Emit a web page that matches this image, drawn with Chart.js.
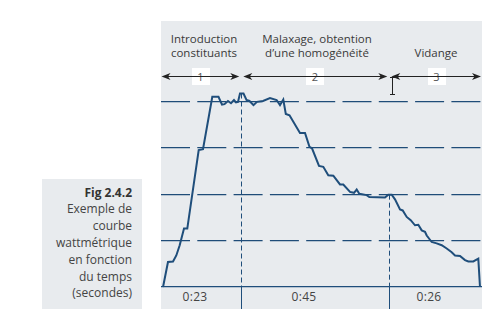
<!DOCTYPE html>
<html lang="fr">
<head>
<meta charset="utf-8">
<title>Courbe wattmétrique</title>
<script src="https://cdn.jsdelivr.net/npm/chart.js@4.4.1/dist/chart.umd.min.js"></script>
<style>
  html, body { margin: 0; padding: 0; background: #fff; }
  body {
    width: 495px; height: 321px; position: relative; overflow: hidden;
    font-family: "Open Sans", "DejaVu Sans", sans-serif; color: #3a3a3a;
  }
  .panel { position: absolute; background: #e8ebee; }
  #plotPanel { left: 161px; top: 21px; width: 321px; height: 288px; }
  #captionPanel { left: 42px; top: 179px; width: 100px; height: 130px; }
  #chartWrap { position: absolute; left: 161px; top: 21px; width: 321px; height: 288px; }
  .head {
    position: absolute; font-size: 11.5px; line-height: 14px;
    text-align: center; white-space: nowrap; transform: translateX(-50%);
  }
  .num {
    position: absolute; width: 18px; height: 17px; background: #fff;
    font-size: 11px; line-height: 17px; text-align: center; color: #555;
    transform: translateX(-50%);
  }
  .dur {
    position: absolute; font-size: 12px; line-height: 16px; top: 289px;
    text-align: center; white-space: nowrap; transform: translateX(-50%); color: #444;
    letter-spacing: 0.3px;
  }
  #caption {
    position: absolute; left: 20px; width: 112px; top: 184.6px;
    font-size: 12px; line-height: 16.8px; text-align: right; color: #444;
  }
  #caption b { font-weight: 700; color: #333; }
</style>
</head>
<body>
<div class="panel" id="captionPanel"></div>
<div class="panel" id="plotPanel"></div>

<div id="caption"></div>

<div class="head" style="left:204px; top:32px;" id="h0"></div>
<div class="head" style="left:317px; top:32px;" id="h1"></div>
<div class="head" style="left:436px; top:46px;" id="h2"></div>

<div class="num" style="left:200.5px; top:68px;" id="n0"></div>
<div class="num" style="left:315px; top:68px;" id="n1"></div>
<div class="num" style="left:436.5px; top:68px;" id="n2"></div>

<div class="dur" style="left:195px;" id="d0"></div>
<div class="dur" style="left:304px;" id="d1"></div>
<div class="dur" style="left:429px;" id="d2"></div>

<div id="chartWrap"><canvas id="wattChart" width="321" height="288"></canvas></div>

<script>
// time in seconds, power in grid units
const times = [
  0, 1.46, 2.94, 3.91, 4.91, 6.18, 7.15, 10.51, 11.78, 14.52,
  16.34, 17.38, 18.11, 19.14, 20.03, 20.91, 21.5, 22.09, 22.68, 23.71,
  24.6, 25.48, 26.66, 27.69, 29.46, 31.52, 33.47, 34.47, 35.44, 36.18,
  37.27, 40.36, 41.84, 43.16, 43.9, 45.96, 47.23, 48.7, 50.18, 52.15,
  53.12, 55.1, 56.28, 57.07, 57.84, 60.02, 60.79, 65.41, 66.39, 67.39,
  68.36, 69.84, 70.63, 71.81, 72.99, 74.26, 75.23, 76.23, 77.2, 77.71,
  79.18, 80.65, 82.13, 83.6, 85.07, 86.05, 87.52, 88.99, 89.97, 91.44,
  92.91, 93.41,
];
const power = [
  0, 0.54, 0.55, 0.68, 0.9, 1.26, 1.26, 2.95, 2.97, 4.1,
  4.1, 3.93, 3.94, 4.01, 3.96, 4.03, 3.98, 3.99, 4.17, 4.17,
  4.03, 4.01, 3.92, 3.99, 4.01, 4.07, 4.03, 3.92, 4.04, 3.73,
  3.7, 3.32, 3.32, 3.02, 2.99, 2.61, 2.59, 2.41, 2.4, 2.21,
  2.21, 2.05, 2.03, 2.1, 2.01, 1.98, 1.94, 1.93, 1.99, 1.99,
  1.89, 1.67, 1.65, 1.51, 1.44, 1.33, 1.34, 1.22, 1.19, 1.11,
  0.97, 0.94, 0.9, 0.83, 0.75, 0.68, 0.67, 0.58, 0.55, 0.55,
  0.61, 0,
];

const phaseBounds = [23.06, 66.68];
const phaseNumbers = ["1", "2", "3"];
const phaseNames = [
  ["Introduction", "constituants"],
  ["Malaxage, obtention", "d\u2019une homogénéité"],
  ["Vidange"],
];
const durations = ["0:23", "0:45", "0:26"];
const yGridValues = [1, 2, 3, 4];
const captionLines = ["Exemple de", "courbe", "wattmétrique", "en fonction", "du temps", "(secondes)"];

const lineColor = "#1f4e7b";
const gridColor = "#1f4c78";

function fillTexts() {
  phaseNames.forEach((lines, i) => {
    document.getElementById("h" + i).innerHTML = lines.join("<br>");
  });
  phaseNumbers.forEach((n, i) => {
    document.getElementById("n" + i).textContent = n;
  });
  durations.forEach((d, i) => {
    document.getElementById("d" + i).textContent = d;
  });
  document.getElementById("caption").innerHTML =
    "<b>Fig 2.4.2</b><br>" + captionLines.join("<br>");
}

function valueAt(t) {
  for (let i = 1; i < times.length; i++) {
    if (times[i] >= t) {
      const f = (t - times[i - 1]) / (times[i] - times[i - 1]);
      return power[i - 1] + f * (power[i] - power[i - 1]);
    }
  }
  return power[power.length - 1];
}

function drawArrowHead(ctx, tipX, y, dir) {
  ctx.beginPath();
  ctx.moveTo(tipX, y);
  ctx.lineTo(tipX - dir * 9, y - 3.6);
  ctx.lineTo(tipX - dir * 6.5, y);
  ctx.lineTo(tipX - dir * 9, y + 3.6);
  ctx.closePath();
  ctx.fill();
}

const markersPlugin = {
  id: "phaseMarkers",
  beforeDatasetsDraw(chart) {
    const { ctx, scales, chartArea } = chart;
    const x = scales.x;
    const y = scales.y;
    ctx.save();
    ctx.strokeStyle = lineColor;
    ctx.lineWidth = 1;
    phaseBounds.forEach((b) => {
      const px = Math.round(x.getPixelForValue(b)) + 0.5;
      const top = y.getPixelForValue(valueAt(b));
      ctx.setLineDash([5, 3]);
      ctx.beginPath();
      ctx.moveTo(px, top);
      ctx.lineTo(px, chartArea.bottom);
      ctx.stroke();
      ctx.setLineDash([]);
      ctx.beginPath();
      ctx.moveTo(px, chartArea.bottom);
      ctx.lineTo(px, chart.height);
      ctx.stroke();
    });
    ctx.restore();
  },
  afterDraw(chart) {
    const { ctx, scales } = chart;
    const x = scales.x;
    const edges = [x.min, ...phaseBounds, x.max];
    const ay = 55.5;
    ctx.save();
    ctx.strokeStyle = "#222";
    ctx.fillStyle = "#222";
    ctx.lineWidth = 1;
    for (let i = 0; i < edges.length - 1; i++) {
      const x0 = x.getPixelForValue(edges[i]) + (i === 0 ? 0.5 : 2);
      const x1 = x.getPixelForValue(edges[i + 1]) - (i === edges.length - 2 ? 1 : 2);
      ctx.beginPath();
      ctx.moveTo(x0 + 5, ay);
      ctx.lineTo(x1 - 5, ay);
      ctx.stroke();
      drawArrowHead(ctx, x0, ay, -1);
      drawArrowHead(ctx, x1, ay, 1);
    }
    // text cursor left in the scan
    const cx = Math.round(x.getPixelForValue(phaseBounds[1])) + 3.5;
    ctx.beginPath();
    ctx.moveTo(cx, 57);
    ctx.lineTo(cx, 73);
    ctx.moveTo(cx - 2.5, 56.5);
    ctx.lineTo(cx + 2.5, 56.5);
    ctx.moveTo(cx - 2.5, 73.5);
    ctx.lineTo(cx + 2.5, 73.5);
    ctx.stroke();
    ctx.restore();
  },
};

function initChart() {
  const canvas = document.getElementById("wattChart");
  new Chart(canvas.getContext("2d"), {
    type: "line",
    data: {
      datasets: [
        {
          data: times.map((t, i) => ({ x: t, y: power[i] })),
          borderColor: lineColor,
          borderWidth: 2,
          pointRadius: 0,
          tension: 0,
          fill: false,
          clip: false,
        },
      ],
    },
    options: {
      responsive: false,
      animation: false,
      devicePixelRatio: 1,
      layout: { padding: { top: 57.2, bottom: 22, left: 0, right: 0 } },
      plugins: { legend: { display: false }, tooltip: { enabled: false } },
      scales: {
        x: {
          type: "linear",
          min: -0.6,
          max: 94,
          grid: { display: false, drawTicks: false },
          ticks: { display: false },
          border: { display: true, color: lineColor, width: 1.3 },
          afterFit: (s) => { s.height = 0; },
        },
        y: {
          min: 0,
          max: 4.5,
          grid: { color: gridColor, lineWidth: 1.2, drawTicks: false },
          border: { display: false, dash: [29, 7.3] },
          ticks: { display: false },
          afterBuildTicks: (s) => { s.ticks = yGridValues.map((v) => ({ value: v })); },
          afterFit: (s) => { s.width = 0; },
        },
      },
    },
    plugins: [markersPlugin],
  });
}

document.addEventListener("DOMContentLoaded", () => {
  fillTexts();
  initChart();
});
</script>
</body>
</html>
